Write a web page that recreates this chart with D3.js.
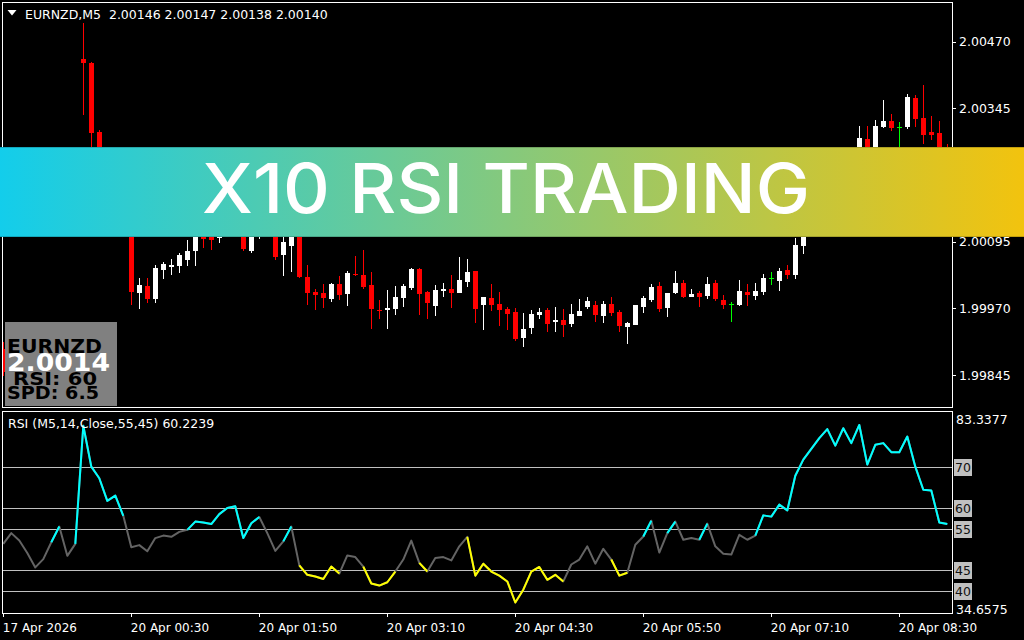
<!DOCTYPE html>
<html><head><meta charset="utf-8">
<script src="https://cdn.jsdelivr.net/npm/d3@7"></script>
<style>
html,body{margin:0;padding:0;background:#000;}
svg{display:block;}
text{font-family:"DejaVu Sans",sans-serif;}
</style></head><body>
<svg id="chart" width="1024" height="640"></svg>
<script>
// ---------------- DATA ----------------
const symbolLabel = "EURNZD,M5";
const headerQuote = ["2.00146", "2.00147", "2.00138", "2.00140"];
const rsiTitle = "RSI (M5,14,Close,55,45) 60.2239";

const open = [
1.99894,1.99851,1.99869,1.99858,1.99843,1.99821,1.99832,1.99851,1.99873,1.99836,
2.00438,2.00430,2.00301,2.00248,2.00183,2.00211,2.00164,1.99999,2.00012,1.99988,
2.00042,2.00048,2.00049,2.00061,2.00078,2.00111,2.00106,2.00102,2.00121,2.00136,
2.00139,2.00078,2.00106,2.00117,2.00108,2.00070,2.00086,2.00113,2.00028,2.00001,
1.99999,1.99988,2.00016,1.99997,2.00035,2.00033,2.00014,1.99967,1.99967,1.99969,
1.99989,2.00008,2.00044,2.00001,1.99974,2.00003,2.00006,1.99999,2.00019,2.00040,
1.99976,1.99989,1.99978,1.99969,1.99963,1.99914,1.99933,1.99958,1.99967,1.99944,
1.99948,1.99941,1.99956,1.99973,1.99976,1.99956,1.99978,1.99963,1.99935,1.99939,
1.99973,1.99986,2.00012,1.99971,1.99999,2.00018,1.99991,1.99999,1.99993,2.00018,
1.99986,1.99978,1.99976,2.00001,1.99993,2.00001,2.00027,2.00021,2.00042,2.00033,
2.00087,2.00121,2.00151,2.00183,2.00211,2.00188,2.00226,2.00201,2.00288,2.00239,
2.00310,2.00321,2.00310,2.00310,2.00364,2.00327,2.00301,2.00299,2.00239];

const high = [
1.99907,1.99877,1.99881,1.99866,1.99849,1.99839,1.99858,1.99884,1.99877,1.99862,
2.00505,2.00432,2.00304,2.00258,2.00220,2.00214,2.00173,2.00027,2.00027,2.00051,
2.00057,2.00063,2.00074,2.00098,2.00121,2.00117,2.00113,2.00132,2.00145,2.00154,
2.00145,2.00111,2.00124,2.00124,2.00111,2.00108,2.00119,2.00117,2.00051,2.00006,
2.00016,2.00018,2.00031,2.00040,2.00068,2.00079,2.00038,1.99986,2.00004,2.00012,
2.00016,2.00046,2.00046,2.00003,2.00014,2.00018,2.00033,2.00066,2.00063,2.00040,
1.99991,2.00016,2.00001,1.99973,1.99971,1.99961,1.99967,1.99971,1.99971,1.99973,
1.99969,1.99978,1.99988,1.99991,1.99984,1.99984,1.99991,1.99967,1.99944,1.99976,
1.99993,2.00016,2.00019,1.99999,2.00040,2.00023,2.00006,2.00003,2.00029,2.00023,
1.99995,1.99982,2.00023,2.00016,2.00018,2.00034,2.00038,2.00046,2.00051,2.00102,
2.00132,2.00164,2.00192,2.00220,2.00218,2.00233,2.00239,2.00312,2.00312,2.00323,
2.00361,2.00334,2.00319,2.00372,2.00370,2.00389,2.00331,2.00321,2.00278];

const low = [
1.99843,1.99845,1.99851,1.99834,1.99806,1.99809,1.99826,1.99845,1.99824,1.99828,
2.00333,2.00267,2.00229,2.00173,2.00164,2.00145,1.99976,1.99969,1.99980,1.99980,
2.00025,2.00033,2.00036,2.00049,2.00050,2.00084,2.00079,2.00093,2.00113,2.00126,
2.00078,2.00074,2.00100,2.00106,2.00061,2.00031,2.00039,2.00027,1.99976,1.99967,
1.99971,1.99981,1.99986,1.99974,2.00031,2.00006,1.99931,1.99950,1.99931,1.99958,
1.99973,2.00004,1.99958,1.99950,1.99956,1.99991,1.99971,1.99999,2.00010,1.99943,
1.99929,1.99965,1.99937,1.99929,1.99909,1.99898,1.99922,1.99950,1.99926,1.99926,
1.99916,1.99935,1.99956,1.99969,1.99944,1.99943,1.99956,1.99926,1.99903,1.99939,
1.99961,1.99982,1.99963,1.99954,1.99997,1.99989,1.99991,1.99973,1.99988,1.99984,
1.99969,1.99944,1.99974,1.99974,1.99986,1.99995,2.00014,2.00003,2.00025,2.00025,
2.00072,2.00113,2.00145,2.00177,2.00181,2.00183,2.00192,2.00196,2.00229,2.00233,
2.00308,2.00303,2.00267,2.00306,2.00310,2.00278,2.00286,2.00220,2.00214];

const close = [
1.99851,1.99869,1.99858,1.99843,1.99821,1.99832,1.99851,1.99873,1.99836,1.99854,
2.00430,2.00299,2.00248,2.00183,2.00211,2.00164,2.00001,2.00014,1.99988,2.00046,
2.00053,2.00051,2.00070,2.00078,2.00113,2.00100,2.00099,2.00121,2.00136,2.00139,
2.00081,2.00106,2.00117,2.00108,2.00067,2.00094,2.00113,2.00028,1.99999,1.99995,
1.99989,2.00016,1.99995,2.00037,2.00033,2.00010,1.99969,1.99965,1.99971,1.99991,
2.00012,2.00044,1.99997,1.99980,2.00004,2.00006,1.99999,2.00023,2.00038,1.99969,
1.99991,1.99976,1.99967,1.99959,1.99913,1.99931,1.99959,1.99963,1.99941,1.99948,
1.99939,1.99959,1.99965,1.99984,1.99958,1.99978,1.99961,1.99937,1.99943,1.99976,
1.99989,2.00010,1.99969,1.99999,2.00018,1.99991,1.99997,1.99991,2.00016,1.99988,
1.99976,1.99978,2.00003,1.99995,2.00003,2.00027,2.00027,2.00040,2.00033,2.00089,
2.00121,2.00151,2.00183,2.00211,2.00188,2.00226,2.00201,2.00289,2.00239,2.00312,
2.00321,2.00308,2.00310,2.00366,2.00325,2.00295,2.00295,2.00229,2.00226];

const rsi = [
51.4,54.0,52.2,49.2,45.7,47.7,51.8,55.6,48.5,51.4,
80.0,70.1,67.3,61.8,63.1,58.2,50.6,51.1,49.6,52.8,
53.4,53.1,54.3,54.8,56.8,56.6,56.2,58.6,60.1,60.5,
52.8,56.4,57.9,54.0,49.7,52.0,55.6,46.2,43.9,43.5,
42.9,45.9,44.2,48.6,48.2,45.9,41.8,41.3,42.1,44.7,
47.6,52.2,46.8,44.7,48.0,48.2,47.4,50.8,53.1,43.7,
46.6,44.7,43.7,42.3,37.2,40.3,44.7,45.8,42.7,43.9,
42.3,46.4,47.6,50.8,46.6,50.2,47.6,43.7,44.4,51.2,
53.2,57.0,49.3,54.0,56.8,52.4,52.8,52.4,56.3,50.8,
49.0,48.8,53.6,52.4,53.4,58.3,58.0,60.9,59.5,67.9,
71.8,74.4,77.0,79.2,75.2,79.4,75.8,80.2,70.6,75.4,
75.8,73.6,73.6,77.4,70.1,64.5,64.3,56.6,56.2];

const priceTicks = [2.00470, 2.00345, 2.00220, 2.00095, 1.99970, 1.99845];
const rsiLevels = [70, 60, 55, 45, 40];
const rsiRange = [34.6575, 83.3377];
const rsiUpper = 55, rsiLower = 45;
const timeTickIndex = [0, 16, 32, 48, 64, 80, 96, 112];
const timeTickLabels = ["17 Apr 2026","20 Apr 00:30","20 Apr 01:50","20 Apr 03:10","20 Apr 04:30","20 Apr 05:50","20 Apr 07:10","20 Apr 08:30"];
const infoLines = ["EURNZD", "2.0014", "RSI: 60", "SPD: 6.5"];
const bannerText = "X10 RSI TRADING";

// ---------------- DRAW ----------------
const svg = d3.select("#chart");
const n = close.length;
const idx = d3.range(n);

const x = d3.scalePoint().domain(idx).range([3.3, 947.3]);
const yP = d3.scaleLinear().domain([1.99845, 2.00470]).range([375, 41.7]);
const yR = d3.scaleLinear().domain(rsiRange).range([613, 412]);

svg.append("rect").attr("width",1024).attr("height",640).attr("fill","#000");

const defs = svg.append("defs");
defs.append("clipPath").attr("id","clipP").append("rect").attr("x",3).attr("y",3).attr("width",949).attr("height",404);
defs.append("clipPath").attr("id","clipR").append("rect").attr("x",3).attr("y",412).attr("width",949).attr("height",201);

// ----- candles -----
const gC = svg.append("g").attr("clip-path","url(#clipP)").attr("shape-rendering","crispEdges");
const colorOf = i => close[i] > open[i] ? "#ffffff" : (close[i] < open[i] ? "#ff0000" : "#00ff00");
gC.selectAll("line.wick").data(idx).join("line")
  .attr("x1", i => Math.floor(x(i)) + 0.5).attr("x2", i => Math.floor(x(i)) + 0.5)
  .attr("y1", i => yP(high[i])).attr("y2", i => yP(low[i]))
  .attr("stroke", colorOf).attr("stroke-width", 1);
gC.selectAll("rect.body").data(idx).join("rect")
  .attr("x", i => Math.floor(x(i)) - 2)
  .attr("width", 5)
  .attr("y", i => Math.round(yP(Math.max(open[i], close[i]))))
  .attr("height", i => Math.max(1, Math.round(yP(Math.min(open[i], close[i]))) - Math.round(yP(Math.max(open[i], close[i])))))
  .attr("fill", colorOf);

// ----- frames -----
svg.append("rect").attr("x",2.5).attr("y",2.5).attr("width",950).attr("height",405)
  .attr("fill","none").attr("stroke","#fff").attr("shape-rendering","crispEdges");
svg.append("rect").attr("x",2.5).attr("y",411.5).attr("width",950).attr("height",202)
  .attr("fill","none").attr("stroke","#fff").attr("shape-rendering","crispEdges");

// ----- price axis -----
const axP = svg.append("g").attr("transform","translate(952,0)")
  .call(d3.axisRight(yP).tickValues(priceTicks).tickFormat(d3.format(".5f")).tickSize(4).tickPadding(3));
axP.select(".domain").remove();
axP.selectAll("line").attr("stroke","#fff").attr("shape-rendering","crispEdges");
axP.selectAll("text").attr("fill","#fff").style("font-family","DejaVu Sans").style("font-size","12.5px");

// ----- header -----
svg.append("path").attr("d","M7.5,10 L16.5,10 L12,15.5 Z").attr("fill","#fff");
svg.append("text").attr("x",25).attr("y",19).attr("fill","#fff").style("font-size","12.5px")
  .style("white-space","pre").text(symbolLabel + "  " + headerQuote.join(" "));

// ----- info box -----
svg.append("rect").attr("x",5).attr("y",322).attr("width",112).attr("height",84).attr("fill","#808080");
const info = svg.append("g").style("font-family","'DejaVu Sans', sans-serif").style("font-weight","bold");
info.append("text").attr("x",7).attr("y",353).attr("fill","#000").style("font-size","20px")
  .attr("textLength",95).attr("lengthAdjust","spacingAndGlyphs").text(infoLines[0]);
info.append("text").attr("x",7).attr("y",371).attr("fill","#fff").style("font-size","25px")
  .attr("textLength",103).attr("lengthAdjust","spacingAndGlyphs").text(infoLines[1]);
info.append("text").attr("x",13).attr("y",385).attr("fill","#000").style("font-size","18px")
  .attr("textLength",84).attr("lengthAdjust","spacingAndGlyphs").text(infoLines[2]);
info.append("text").attr("x",7).attr("y",399).attr("fill","#000").style("font-size","18px")
  .attr("textLength",92).attr("lengthAdjust","spacingAndGlyphs").text(infoLines[3]);

// ----- RSI panel -----
const gR = svg.append("g").attr("clip-path","url(#clipR)");
gR.selectAll("line.level").data(rsiLevels).join("line")
  .attr("x1",3).attr("x2",952).attr("y1", d => Math.round(yR(d)) + 0.5).attr("y2", d => Math.round(yR(d)) + 0.5)
  .attr("stroke","#c0c0c0").attr("stroke-width",1).attr("shape-rendering","crispEdges");

const markUp = idx.map(i => rsi[i] > rsiUpper || (i + 1 < n && rsi[i + 1] > rsiUpper));
const markDn = idx.map(i => rsi[i] < rsiLower || (i + 1 < n && rsi[i + 1] < rsiLower));
const lineAll = d3.line().x(i => x(i)).y(i => yR(rsi[i]));
gR.append("path").attr("d", lineAll(idx)).attr("fill","none").attr("stroke","#646464").attr("stroke-width",2).attr("stroke-linejoin","round");
gR.append("path").attr("d", d3.line().defined(i => markUp[i]).x(i => x(i)).y(i => yR(rsi[i]))(idx))
  .attr("fill","none").attr("stroke","#00ffff").attr("stroke-width",2).attr("stroke-linejoin","round");
gR.append("path").attr("d", d3.line().defined(i => markDn[i]).x(i => x(i)).y(i => yR(rsi[i]))(idx))
  .attr("fill","none").attr("stroke","#ffff00").attr("stroke-width",2).attr("stroke-linejoin","round");

svg.append("text").attr("x",8).attr("y",428).attr("fill","#fff").style("font-size","12.5px").text(rsiTitle);

// RSI axis (max / min)
const axR = svg.append("g").attr("transform","translate(952,0)")
  .call(d3.axisRight(yR).tickValues(rsiRange).tickFormat(d3.format(".4f")).tickSize(0).tickPadding(4));
axR.select(".domain").remove();
axR.selectAll("text").attr("fill","#fff").style("font-family","DejaVu Sans").style("font-size","12.5px")
  .attr("dy", d => d === rsiRange[1] ? "0.9em" : "0.05em");

// level labels in boxes
const lv = svg.append("g").selectAll("g").data(rsiLevels).join("g")
  .attr("transform", d => `translate(954,${Math.round(yR(d))})`);
lv.append("rect").attr("x",0).attr("y",-8).attr("width",18).attr("height",17).attr("fill","#c0c0c0");
lv.append("text").attr("x",1).attr("y",5).attr("fill","#111").style("font-size","12.5px").text(d => d);

// ----- time axis -----
const axT = svg.append("g").attr("transform","translate(0,613)")
  .call(d3.axisBottom(x).tickValues(timeTickIndex).tickFormat((d, k) => timeTickLabels[k]).tickSize(4).tickPadding(6));
axT.select(".domain").remove();
axT.selectAll("line").attr("stroke","#fff").attr("shape-rendering","crispEdges");
axT.selectAll("text").attr("fill","#fff").attr("text-anchor","start").attr("dx","-1")
  .style("font-family","DejaVu Sans").style("font-size","12px");

// ----- banner -----
const grad = defs.append("linearGradient").attr("id","bannerGrad").attr("x1","0").attr("x2","1").attr("y1","0").attr("y2","0");
grad.append("stop").attr("offset","0%").attr("stop-color","#13cdeb");
grad.append("stop").attr("offset","50%").attr("stop-color","#86c97c");
grad.append("stop").attr("offset","100%").attr("stop-color","#f2c30e");
svg.append("rect").attr("x",0).attr("y",147).attr("width",1024).attr("height",90).attr("fill","url(#bannerGrad)");
svg.append("line").attr("x1",0).attr("x2",1024).attr("y1",147.5).attr("y2",147.5).attr("stroke","rgba(0,0,0,0.18)");
svg.append("line").attr("x1",0).attr("x2",1024).attr("y1",236.5).attr("y2",236.5).attr("stroke","rgba(0,0,0,0.18)");
svg.append("text").attr("x",202).attr("y",213.3).attr("fill","#fff")
  .style("font-family","Inter, 'Open Sans', sans-serif").style("font-weight","500").style("font-size","69px")
  .attr("textLength",608).attr("lengthAdjust","spacingAndGlyphs").text(bannerText);
</script>
</body></html>
